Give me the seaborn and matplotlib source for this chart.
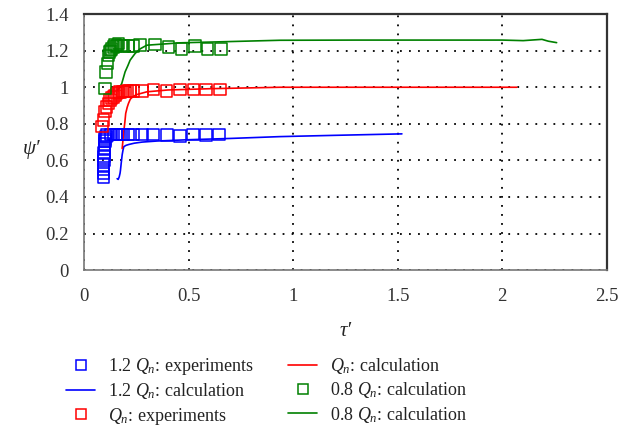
import matplotlib
matplotlib.use("Agg")
import matplotlib.pyplot as plt
import seaborn as sns
from matplotlib.lines import Line2D

# ---- data ----
blue_exp_x = [0.093, 0.093, 0.094, 0.094, 0.095, 0.095, 0.096, 0.097, 0.098, 0.099, 0.101, 0.104,
              0.11, 0.125, 0.14, 0.155, 0.17, 0.186, 0.21, 0.234, 0.277, 0.33, 0.397, 0.459,
              0.521, 0.583, 0.645]
blue_exp_y = [0.507, 0.529, 0.551, 0.574, 0.598, 0.62, 0.642, 0.665, 0.689, 0.705, 0.718, 0.73,
              0.738, 0.742, 0.742, 0.742, 0.743, 0.742, 0.742, 0.742, 0.741, 0.742, 0.74, 0.734,
              0.741, 0.74, 0.741]
blue_calc_x = [0.158, 0.163, 0.168, 0.172, 0.174, 0.178, 0.182, 0.186, 0.19, 0.2, 0.214, 0.24,
               0.277, 0.35, 0.5, 0.7, 0.937, 1.2, 1.52]
blue_calc_y = [0.50, 0.496, 0.51, 0.53, 0.547, 0.59, 0.63, 0.656, 0.675, 0.682, 0.687, 0.694,
               0.70, 0.706, 0.713, 0.72, 0.73, 0.737, 0.745]

red_exp_x = [0.085, 0.092, 0.1, 0.108, 0.116, 0.124, 0.132, 0.14, 0.148, 0.156, 0.164, 0.172,
             0.185, 0.196, 0.208, 0.22, 0.236, 0.276, 0.331, 0.395, 0.459, 0.522, 0.583, 0.65]
red_exp_y = [0.784, 0.82, 0.866, 0.893, 0.911, 0.93, 0.94, 0.947, 0.956, 0.966, 0.97, 0.975,
             0.977, 0.978, 0.98, 0.98, 0.98, 0.98, 0.988, 0.98, 0.988, 0.988, 0.988, 0.988]
red_calc_x = [0.182, 0.185, 0.19, 0.195, 0.199, 0.206, 0.212, 0.221, 0.235, 0.252, 0.3, 0.4,
              0.6, 0.937, 1.3, 1.7, 2.07]
red_calc_y = [0.665, 0.70, 0.76, 0.81, 0.857, 0.89, 0.911, 0.935, 0.95, 0.96, 0.975, 0.985,
              0.992, 1.0, 1.0, 1.0, 1.0]

green_exp_x = [0.1, 0.105, 0.113, 0.116, 0.121, 0.126, 0.132, 0.14, 0.148, 0.156, 0.164, 0.176,
               0.188, 0.212, 0.236, 0.268, 0.339, 0.403, 0.467, 0.53, 0.591, 0.655]
green_exp_y = [0.993, 1.084, 1.13, 1.175, 1.194, 1.2, 1.21, 1.22, 1.23, 1.225, 1.24, 1.228,
               1.225, 1.225, 1.225, 1.23, 1.234, 1.22, 1.21, 1.225, 1.21, 1.21]
green_calc_x = [0.159, 0.17, 0.18, 0.196, 0.21, 0.22, 0.244, 0.268, 0.3, 0.459, 0.7, 0.937,
                1.3, 1.7, 2.0, 2.1, 2.19, 2.22, 2.26]
green_calc_y = [0.984, 1.0, 1.02, 1.084, 1.12, 1.148, 1.185, 1.21, 1.23, 1.243, 1.25, 1.257,
                1.258, 1.258, 1.258, 1.255, 1.262, 1.252, 1.244]

labels = ["1.2 $Q_n$: experiments", "1.2 $Q_n$: calculation",
          "$Q_n$: experiments", "$Q_n$: calculation",
          "0.8 $Q_n$: calculation", "0.8 $Q_n$: calculation"]
x_ticks = [0, 0.5, 1, 1.5, 2, 2.5]
x_tick_labels = ["0", "0.5", "1", "1.5", "2", "2.5"]
y_ticks = [0, 0.2, 0.4, 0.6, 0.8, 1, 1.2, 1.4]
y_tick_labels = ["0", "0.2", "0.4", "0.6", "0.8", "1", "1.2", "1.4"]

# ---- style ----
sns.set_style("white")
plt.rcParams["font.family"] = ["Liberation Serif", "DejaVu Serif"]
plt.rcParams["mathtext.fontset"] = "custom"
plt.rcParams["mathtext.rm"] = "Liberation Serif"
plt.rcParams["mathtext.it"] = "Liberation Serif:italic"
plt.rcParams["text.color"] = "#222222"

fig = plt.figure(figsize=(6.23, 4.28), dpi=100)
ax = fig.add_axes([0.135, 0.369, 0.839, 0.598])

BLUE, RED, GREEN = "#0000ff", "#ff0000", "#008000"
sq = dict(marker="s", s=68, facecolor="none", linewidth=1.1, zorder=3)

sns.lineplot(x=blue_calc_x, y=blue_calc_y, ax=ax, color=BLUE, lw=1.2, sort=False, estimator=None)
sns.lineplot(x=red_calc_x, y=red_calc_y, ax=ax, color=RED, lw=1.2, sort=False, estimator=None)
sns.lineplot(x=green_calc_x, y=green_calc_y, ax=ax, color=GREEN, lw=1.2, sort=False, estimator=None)
sns.scatterplot(x=blue_exp_x, y=blue_exp_y, ax=ax, edgecolor=BLUE, **sq)
sns.scatterplot(x=red_exp_x, y=red_exp_y, ax=ax, edgecolor=RED, **sq)
sns.scatterplot(x=green_exp_x, y=green_exp_y, ax=ax, edgecolor=GREEN, **sq)

ax.set_xlim(0, 2.5)
ax.set_ylim(0, 1.4)
ax.set_xticks(x_ticks)
ax.set_xticklabels(x_tick_labels)
ax.set_yticks(y_ticks)
ax.set_yticklabels(y_tick_labels)
ax.tick_params(axis="both", labelsize=13.5, colors="#333333")
ax.tick_params(axis="x", direction="inout", length=6, width=1.2, pad=10)
ax.tick_params(axis="y", direction="out", length=5, width=1.2, pad=6)
ax.grid(True, color="black", linestyle=(0, (1, 4)), linewidth=1.3)
for side in ["left", "bottom"]:
    ax.spines[side].set_color("#777777")
    ax.spines[side].set_linewidth(1.2)
for side in ["top", "right"]:
    ax.spines[side].set_color("#333333")
    ax.spines[side].set_linewidth(1.6)

ax.set_xlabel("τ′", fontsize=15, style="italic", labelpad=12)
ax.set_ylabel("ψ′", fontsize=15, style="italic", rotation=0, va="center")
ax.yaxis.set_label_coords(-0.1, 0.47)

handles = [
    Line2D([], [], marker="s", ls="none", mfc="none", mec=BLUE, ms=7, mew=1.1),
    Line2D([], [], color=BLUE, lw=1.2),
    Line2D([], [], marker="s", ls="none", mfc="none", mec=RED, ms=7, mew=1.1),
    Line2D([], [], color=RED, lw=1.2),
    Line2D([], [], marker="s", ls="none", mfc="none", mec=GREEN, ms=7, mew=1.1),
    Line2D([], [], color=GREEN, lw=1.2),
]
fig.legend(handles, labels, ncol=2, loc="lower left", bbox_to_anchor=(0.08, -0.035),
           frameon=False, fontsize=13, handlelength=1.6, handletextpad=0.7,
           columnspacing=1.95, labelspacing=0.24)

fig.savefig("out.png", dpi=100)
